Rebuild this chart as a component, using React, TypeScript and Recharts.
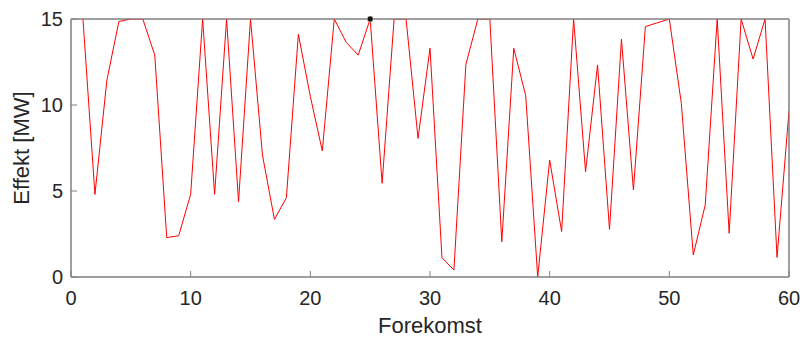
import {LineChart, Line, XAxis, YAxis, ReferenceDot, ReferenceArea} from "recharts";

// Forekomst 1..60, effekt i MW (topp-verdier ligger på 15)
const forekomst = [
  1, 2, 3, 4, 5, 6, 7, 8, 9, 10, 11, 12, 13, 14, 15, 16, 17, 18, 19, 20,
  21, 22, 23, 24, 25, 26, 27, 28, 29, 30, 31, 32, 33, 34, 35, 36, 37, 38, 39, 40,
  41, 42, 43, 44, 45, 46, 47, 48, 49, 50, 51, 52, 53, 54, 55, 56, 57, 58, 59, 60,
];
const effekt = [
  15, 4.8, 11.45, 14.85, 15, 15, 12.9, 2.29, 2.4, 4.81,
  15, 4.81, 15, 4.38, 15, 7.09, 3.35, 4.61, 14.11, 10.5,
  7.33, 15, 13.64, 12.9, 15, 5.45, 15, 15, 8.06, 13.3,
  1.12, 0.41, 12.36, 15, 15, 2.05, 13.3, 10.54, 0, 6.8,
  2.64, 15, 6.12, 12.33, 2.77, 13.82, 5.06, 14.56, 14.78, 15,
  10.1, 1.28, 4.19, 15, 2.54, 15, 12.67, 15, 1.14, 9.65,
];
const markert = {x: 25, y: 15};

const xDomain = [0, 60];
const yDomain = [0, 15];
const xTicks = [0, 10, 20, 30, 40, 50, 60];
const yTicks = [0, 5, 10, 15];

const data = forekomst.map((x, i) => ({x, y: effekt[i]}));

const font = "'Liberation Sans', Arial, sans-serif";
const textColor = "#262626";
const frameColor = "#808080";
const tickStyle = {fontSize: 20, fill: textColor, fontFamily: font};

function YLabel(props: any) {
  const vb = props.viewBox;
  const x = vb.x + 21;
  const y = vb.y + vb.height / 2;
  return (
    <text
      x={x}
      y={y}
      transform={`rotate(-90 ${x} ${y})`}
      textAnchor="middle"
      dominantBaseline="central"
      fontSize={22}
      fill={textColor}
      fontFamily={font}
    >
      Effekt [MW]
    </text>
  );
}

export default function App() {
  return (
    <div style={{position: "absolute", left: 0, top: 0, background: "#fff"}}>
      <LineChart
        width={803}
        height={338}
        data={data}
        margin={{top: 0, right: 0, bottom: 0, left: 0}}
      >
        <XAxis
          dataKey="x"
          type="number"
          domain={xDomain}
          ticks={xTicks}
          allowDataOverflow
          height={61}
          tickSize={-6}
          tickMargin={20}
          tick={tickStyle}
          stroke={frameColor}
          label={{
            value: "Forekomst",
            position: "insideBottom",
            offset: 5,
            fontSize: 22,
            fill: textColor,
            fontFamily: font,
          }}
        />
        {/* topp- og høyreakse: innvendige tick-streker langs rammen */}
        <XAxis
          xAxisId="top"
          dataKey="x"
          orientation="top"
          type="number"
          domain={xDomain}
          ticks={xTicks}
          height={19}
          tickSize={-6}
          tick={false}
          stroke={frameColor}
        />
        <YAxis
          type="number"
          domain={yDomain}
          ticks={yTicks}
          allowDataOverflow
          width={71}
          tickSize={-6}
          tickMargin={14}
          tick={tickStyle}
          stroke={frameColor}
          label={{content: YLabel}}
        />
        <YAxis
          yAxisId="right"
          dataKey="y"
          orientation="right"
          type="number"
          domain={yDomain}
          ticks={yTicks}
          width={14}
          tickSize={-6}
          tick={false}
          stroke={frameColor}
        />
        <ReferenceArea
          x1={xDomain[0]}
          x2={xDomain[1]}
          y1={yDomain[0]}
          y2={yDomain[1]}
          fill="none"
          stroke={frameColor}
          strokeWidth={1}
        />
        <Line
          xAxisId="top"
          yAxisId="right"
          type="linear"
          dataKey="y"
          stroke="none"
          dot={false}
          activeDot={false}
          legendType="none"
          isAnimationActive={false}
        />
        <Line
          type="linear"
          dataKey="y"
          stroke="#ff0000"
          strokeWidth={1}
          dot={false}
          isAnimationActive={false}
        />
        <ReferenceDot
          x={markert.x}
          y={markert.y}
          r={3}
          fill="#111"
          stroke="#f4f0c8"
          strokeWidth={0.5}
        />
      </LineChart>
    </div>
  );
}
